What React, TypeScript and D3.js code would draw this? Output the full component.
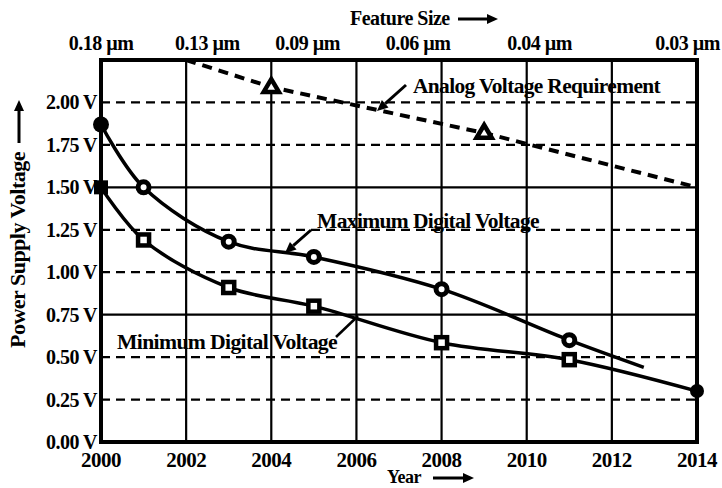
import React from "react";
import * as d3 from "d3";

const W = 722;
const H = 488;

const yearTicks = [2000, 2002, 2004, 2006, 2008, 2010, 2012, 2014];
const voltTicks = [0, 0.25, 0.5, 0.75, 1.0, 1.25, 1.5, 1.75, 2.0];
const solidVoltGrid = [0.75, 1.5];
const dashedVoltGrid = [0.25, 0.5, 1.0, 1.25, 1.75, 2.0];
const featureLabels = ["0.18 µm", "0.13 µm", "0.09 µm", "0.06 µm", "0.04 µm", "0.03 µm"];
const featureYears = [2000, 2002.5, 2004.85, 2007.45, 2010.3, 2014];

const analogYears = [2002, 2004, 2009, 2014];
const analogValues = [2.25, 2.09, 1.82, 1.5];
const analogMarkerYears = [2004, 2009];
const analogMarkerValues = [2.09, 1.82];

const maxYears = [2000, 2001, 2003, 2005, 2008, 2011, 2012.75];
const maxValues = [1.87, 1.5, 1.18, 1.09, 0.9, 0.6, 0.44];
const maxMarkerYears = [2000, 2001, 2003, 2005, 2008, 2011];
const maxMarkerValues = [1.87, 1.5, 1.18, 1.09, 0.9, 0.6];

const minYears = [2000, 2001, 2003, 2005, 2008, 2011, 2014];
const minValues = [1.5, 1.19, 0.91, 0.8, 0.585, 0.485, 0.3];

const FONT = "'Liberation Serif', 'DejaVu Serif', serif";

export default function App() {
  const x = d3.scaleLinear().domain([2000, 2014]).range([101, 697]);
  const y = d3.scaleLinear().domain([0, 2.25]).range([442, 60]);

  const smooth = d3
    .line<[number, number]>()
    .x((d) => x(d[0]))
    .y((d) => y(d[1]))
    .curve(d3.curveCatmullRom.alpha(0.5));
  const straight = d3
    .line<[number, number]>()
    .x((d) => x(d[0]))
    .y((d) => y(d[1]));

  const maxPts = maxYears.map((yr, i) => [yr, maxValues[i]] as [number, number]);
  const minPts = minYears.map((yr, i) => [yr, minValues[i]] as [number, number]);
  const anaPts = analogYears.map((yr, i) => [yr, analogValues[i]] as [number, number]);

  const tri = (cx: number, cy: number, s: number) =>
    `M${cx},${cy - s} L${cx + s * 0.95},${cy + s * 0.6} L${cx - s * 0.95},${cy + s * 0.6} Z`;

  const arrow = (x1: number, y1: number, x2: number, y2: number, key: string) => {
    const ang = Math.atan2(y2 - y1, x2 - x1);
    const L = 11;
    const Wd = 5;
    const bx = x2 - L * Math.cos(ang);
    const by = y2 - L * Math.sin(ang);
    const px = -Math.sin(ang) * Wd;
    const py = Math.cos(ang) * Wd;
    return (
      <g key={key}>
        <line x1={x1} y1={y1} x2={bx} y2={by} stroke="#000" strokeWidth={3} />
        <path d={`M${x2},${y2} L${bx + px},${by + py} L${bx - px},${by - py} Z`} fill="#000" />
      </g>
    );
  };

  return (
    <svg
      width={W}
      height={H}
      style={{ position: "absolute", left: 0, top: 0, background: "#fff" }}
      fontFamily={FONT}
    >
      <rect x={0} y={0} width={W} height={H} fill="#fff" />

      {/* vertical grid */}
      {yearTicks.slice(1, -1).map((yr) => (
        <line key={"vg" + yr} x1={x(yr)} x2={x(yr)} y1={y(2.25)} y2={y(0)} stroke="#000" strokeWidth={2.2} />
      ))}
      {/* horizontal grid */}
      {dashedVoltGrid.map((v) => (
        <line key={"dg" + v} x1={x(2000)} x2={x(2014)} y1={y(v)} y2={y(v)} stroke="#000" strokeWidth={2.2} strokeDasharray="9,6" />
      ))}
      {solidVoltGrid.map((v) => (
        <line key={"sg" + v} x1={x(2000)} x2={x(2014)} y1={y(v)} y2={y(v)} stroke="#000" strokeWidth={2.2} />
      ))}

      {/* frame */}
      <rect x={x(2000)} y={y(2.25)} width={x(2014) - x(2000)} height={y(0) - y(2.25)} fill="none" stroke="#000" strokeWidth={4} />

      {/* analog line */}
      <path d={straight(anaPts) || ""} fill="none" stroke="#000" strokeWidth={4} strokeDasharray="10,7" />
      {analogMarkerYears.map((yr, i) => (
        <path key={"tri" + yr} d={tri(x(yr), y(analogMarkerValues[i]), 8)} fill="#fff" stroke="#000" strokeWidth={4.5} strokeLinejoin="miter" />
      ))}

      {/* digital lines */}
      <path d={smooth(maxPts) || ""} fill="none" stroke="#000" strokeWidth={3.5} />
      <path d={smooth(minPts) || ""} fill="none" stroke="#000" strokeWidth={3.5} />

      {maxMarkerYears.map((yr, i) =>
        i === 0 ? (
          <circle key={"mc" + yr} cx={x(yr)} cy={y(maxMarkerValues[i])} r={8} fill="#000" />
        ) : (
          <circle key={"mc" + yr} cx={x(yr)} cy={y(maxMarkerValues[i])} r={5.5} fill="#fff" stroke="#000" strokeWidth={5} />
        )
      )}
      {minYears.map((yr, i) =>
        i === 0 ? (
          <rect key={"ms" + yr} x={x(yr) - 7} y={y(minValues[i]) - 7} width={14} height={14} fill="#000" />
        ) : i === minYears.length - 1 ? (
          <circle key={"ms" + yr} cx={x(yr)} cy={y(minValues[i])} r={7} fill="#000" />
        ) : (
          <rect key={"ms" + yr} x={x(yr) - 5.5} y={y(minValues[i]) - 5.5} width={11} height={11} fill="#fff" stroke="#000" strokeWidth={4.5} />
        )
      )}

      {/* y tick labels */}
      {voltTicks.map((v) => (
        <text key={"yl" + v} x={97} y={y(v) + 7} textAnchor="end" fontSize={20} fontWeight="bold" letterSpacing={-0.5}>
          {v.toFixed(2) + " V"}
        </text>
      ))}
      {/* x tick labels */}
      {yearTicks.map((yr) => (
        <text key={"xl" + yr} x={x(yr)} y={467} textAnchor="middle" fontSize={21} fontWeight="bold" letterSpacing={-0.5}>
          {yr}
        </text>
      ))}
      {/* feature size labels */}
      {featureLabels.map((lab, i) => (
        <text
          key={"fl" + i}
          x={i === featureLabels.length - 1 ? 720 : x(featureYears[i])}
          y={50}
          textAnchor={i === featureLabels.length - 1 ? "end" : "middle"}
          fontSize={20}
          fontWeight="bold"
          letterSpacing={-0.5}
        >
          {lab}
        </text>
      ))}

      {/* titles */}
      <text x={350} y={25} fontSize={20} fontWeight="bold" letterSpacing={-0.5}>Feature Size</text>
      {arrow(458, 19, 498, 19, "fa")}
      <text x={387} y={483} fontSize={18} fontWeight="bold" letterSpacing={-0.5}>Year</text>
      {arrow(433, 478, 474, 478, "ya")}
      <g transform="translate(25,348) rotate(-90)">
        <text x={0} y={0} fontSize={20} fontWeight="bold" letterSpacing={-0.5} textLength={196} lengthAdjust="spacingAndGlyphs">
          Power Supply Voltage
        </text>
      </g>
      {arrow(19, 143, 19, 100, "pa")}

      {/* annotations */}
      <text x={413} y={93} fontSize={20} fontWeight="bold" letterSpacing={-0.6} textLength={247} lengthAdjust="spacingAndGlyphs">
        Analog Voltage Requirement
      </text>
      {arrow(406, 85, 377, 111, "a1")}
      <text x={317} y={228} fontSize={20} fontWeight="bold" letterSpacing={-0.6} textLength={222} lengthAdjust="spacingAndGlyphs">
        Maximum Digital Voltage
      </text>
      {arrow(311, 230, 285, 253, "a2")}
      <text x={117} y={349} fontSize={20} fontWeight="bold" letterSpacing={-0.6} textLength={220} lengthAdjust="spacingAndGlyphs">
        Minimum Digital Voltage
      </text>
      <line x1={336} y1={337} x2={358} y2={316} stroke="#000" strokeWidth={2.5} />
    </svg>
  );
}
